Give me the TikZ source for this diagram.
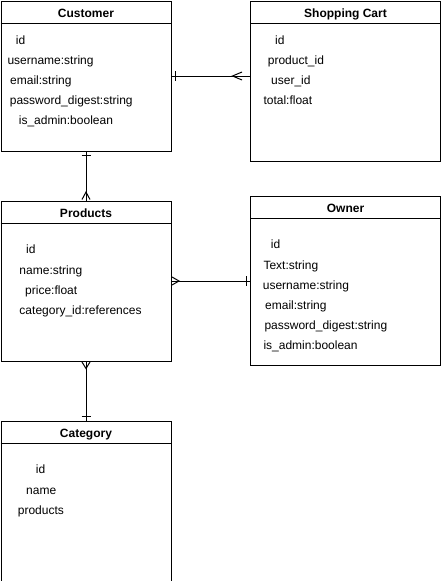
\documentclass[tikz,border=0pt]{standalone}
\usepackage{fontspec}
\setmainfont{Liberation Sans}
\usetikzlibrary{calc}
\begin{document}
\begin{tikzpicture}[x=1pt,y=-1pt,
  entity/.style={draw, line width=1pt, inner sep=0pt, anchor=north west},
  ttl/.style={font=\bfseries\fontsize{12}{14}\selectfont, inner sep=0pt, anchor=base},
  attr/.style={font=\fontsize{12}{14}\selectfont, inner sep=0pt, anchor=base west},
  conn/.style={line width=1pt, line cap=butt}]
\useasboundingbox (0,0) rectangle (441,581);

% entities
\node[entity, minimum width=170pt, minimum height=150pt] (cust) at (0.5,0.5) {};
\node[entity, minimum width=190pt, minimum height=160pt] (cart) at (250,0.5) {};
\node[entity, minimum width=170pt, minimum height=160pt] (prod) at (0.5,200.5) {};
\node[entity, minimum width=190pt, minimum height=169.5pt] (owner) at (250,195.5) {};
\node[entity, minimum width=170pt, minimum height=160pt] (cat) at (0.5,420.5) {};

% header separators
\foreach \e/\d in {cust/23, cart/23, prod/23, owner/22.5, cat/23}
  \draw[line width=1pt] ([yshift=-\d pt]\e.north west) -- ([yshift=-\d pt]\e.north east);

% titles
\node[ttl] (custT) at ($(cust.north)+(0,16.5)$) {Customer};
\node[ttl] (cartT) at ($(cart.north)+(0,16.5)$) {Shopping Cart};
\node[ttl] (prodT) at ($(prod.north)+(0,16.5)$) {Products};
\node[ttl] (ownerT) at ($(owner.north)+(0,16.5)$) {Owner};
\node[ttl] (catT) at ($(cat.north)+(0,16.5)$) {Category};

% Customer attributes
\node[attr] (c1) at (15.7,44.3) {id};
\node[attr] (c2) at (7.3,64.3) {username:string};
\node[attr] (c3) at (10,84.3) {email:string};
\node[attr] (c4) at (9.7,104.3) {password\_digest:string};
\node[attr] (c5) at (18.7,124.3) {is\_admin:boolean};

% Shopping Cart attributes
\node[attr] (s1) at (275,44.3) {id};
\node[attr] (s2) at (267.7,64.3) {product\_id};
\node[attr] (s3) at (271,84.3) {user\_id};
\node[attr] (s4) at (263.3,104.3) {total:float};

% Products attributes
\node[attr] (p1) at (26,253.6) {id};
\node[attr] (p2) at (19.3,274.3) {name:string};
\node[attr] (p3) at (25,294.3) {price:float};
\node[attr] (p4) at (19.3,314.3) {category\_id:references};

% Owner attributes
\node[attr] (o1) at (270.7,248.6) {id};
\node[attr] (o2) at (263.3,269.3) {Text:string};
\node[attr] (o3) at (262.7,289.3) {username:string};
\node[attr] (o4) at (265,309.3) {email:string};
\node[attr] (o5) at (264.3,329.3) {password\_digest:string};
\node[attr] (o6) at (263.3,349.3) {is\_admin:boolean};

% Category attributes
\node[attr] (k1) at (35.7,473.6) {id};
\node[attr] (k2) at (26,494.3) {name};
\node[attr] (k3) at (17.7,514.3) {products};

% Customer -- Shopping Cart
\coordinate (cc1) at (cust.east);
\coordinate (cc2) at (cust.east -| cart.west);
\draw[conn] (cc1) -- (cc2);
\draw[conn] ($(cc1)+(4,-5)$) -- ($(cc1)+(4,5)$);
\draw[conn] ($(cc2)+(-8,-4)$) -- ($(cc2)+(-17.5,0)$) -- ($(cc2)+(-8,4)$);

% Customer -- Products
\draw[conn] (cust.south) -- (prod.north);
\draw[conn] ($(cust.south)+(-4.5,4)$) -- ($(cust.south)+(4.5,4)$);
\draw[conn] ($(prod.north)+(-4,-1)$) -- ($(prod.north)+(0,-8.5)$) -- ($(prod.north)+(4,-1)$);

% Products -- Owner
\coordinate (po1) at (prod.east);
\coordinate (po2) at (prod.east -| owner.west);
\draw[conn] (po1) -- (po2);
\draw[conn] ($(po1)+(0.5,-4)$) -- ($(po1)+(7.5,0)$) -- ($(po1)+(0.5,4)$);
\draw[conn] ($(po2)+(-3.5,-5)$) -- ($(po2)+(-3.5,5)$);

% Products -- Category
\draw[conn] (prod.south) -- (cat.north);
\draw[conn] ($(prod.south)+(-4,0.5)$) -- ($(prod.south)+(0,7)$) -- ($(prod.south)+(4,0.5)$);
\draw[conn] ($(cat.north)+(-4.5,-4)$) -- ($(cat.north)+(4.5,-4)$);
\end{tikzpicture}
\end{document}
